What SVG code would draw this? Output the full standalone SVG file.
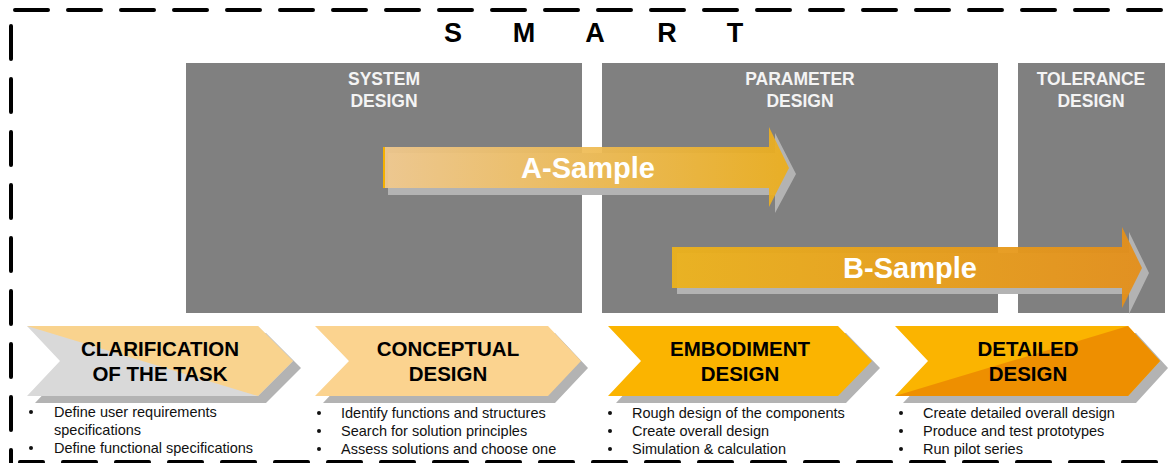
<svg xmlns="http://www.w3.org/2000/svg" width="1171" height="463" viewBox="0 0 1171 463">
<style>
.dash{fill:none;stroke:#000;stroke-width:4;stroke-linecap:round;stroke-dasharray:33 20}
.box{fill:#808080}
.hd{font-family:"Liberation Sans",Arial,sans-serif;font-weight:bold;font-size:17.5px;fill:#f4f4f4;text-anchor:middle}
.smp{font-family:"Liberation Sans",Arial,sans-serif;font-weight:bold;font-size:29px;fill:#fff;text-anchor:middle}
.ct{font-family:"Liberation Sans",Arial,sans-serif;font-weight:bold;font-size:20.5px;fill:#000;text-anchor:middle}
.bl{font-family:"Liberation Sans",Arial,sans-serif;font-size:14.5px;fill:#111}
.sh{fill:#b3b3b3}
.title{font-family:"Liberation Sans",Arial,sans-serif;font-weight:bold;font-size:27px;fill:#000;text-anchor:middle}
</style>
<defs>
<linearGradient id="gA" x1="0" y1="0" x2="1" y2="0">
<stop offset="0" stop-color="#f1c98e"/>
<stop offset="1" stop-color="#ecae1c"/>
</linearGradient>
<linearGradient id="gB" x1="0" y1="0" x2="1" y2="0">
<stop offset="0" stop-color="#ecb21c"/>
<stop offset="1" stop-color="#e48f1a"/>
</linearGradient>
</defs>
<rect width="1171" height="463" fill="#fff"/>
<g id="border">
<line class="dash" x1="15" y1="10" x2="1171" y2="10"/>
<line class="dash" x1="11" y1="26" x2="11" y2="470"/>
<line class="dash" x1="20" y1="462" x2="1171" y2="462" stroke-dashoffset="10"/>
</g>
<g id="title">
<text class="title" x="453" y="42">S</text>
<text class="title" x="524" y="42">M</text>
<text class="title" x="595" y="42">A</text>
<text class="title" x="667" y="42">R</text>
<text class="title" x="735" y="42">T</text>
</g>
<g id="system-design">
<rect class="box" x="186" y="63" width="396" height="250"/>
<text class="hd" x="384" y="85">SYSTEM</text>
<text class="hd" x="384" y="107">DESIGN</text>
</g>
<g id="parameter-design">
<rect class="box" x="602" y="63" width="396" height="250"/>
<text class="hd" x="800" y="85">PARAMETER</text>
<text class="hd" x="800" y="107">DESIGN</text>
</g>
<g id="tolerance-design">
<rect class="box" x="1018" y="63" width="147" height="250"/>
<text class="hd" x="1091" y="85">TOLERANCE</text>
<text class="hd" x="1091" y="107">DESIGN</text>
</g>
<g id="a-sample">
<polygon class="sh" points="388,153 775,153 775,133 796,174 775,213 775,195 388,195"/>
<polygon fill="url(#gA)" opacity="0.93" points="383,147 769,147 769,127 789,168 769,207 769,188 383,188"/>
<line x1="384" y1="147" x2="384" y2="188" stroke="#f5b000" stroke-width="2"/>
<text class="smp" x="588" y="178">A-Sample</text>
</g>
<g id="b-sample">
<polygon class="sh" points="677,253 1129,253 1129,232 1149,273 1129,314 1129,294 677,294"/>
<polygon fill="url(#gB)" opacity="0.95" points="672,247 1122,247 1122,227 1142,268 1122,308 1122,288 672,288"/>
<text class="smp" x="910" y="278">B-Sample</text>
</g>
<g id="clarification">
<polygon class="sh" points="35,333 266,333 301,368 266,403 35,403 68,368"/>
<polygon fill="#d9d9d9" points="27,326 258,326 293,361 258,396 27,396 60,361"/>
<polygon fill="#f9d38e" points="27,326 258,326 293,361 258,396"/>
<text class="ct" x="160" y="356">CLARIFICATION</text>
<text class="ct" x="160" y="381">OF THE TASK</text>
<circle cx="31" cy="412" r="2" fill="#111"/>
<text class="bl" x="54" y="417">Define user requirements</text>
<text class="bl" x="54" y="435">specifications</text>
<circle cx="31" cy="448" r="2" fill="#111"/>
<text class="bl" x="54" y="453">Define functional specifications</text>
</g>
<g id="conceptual">
<polygon class="sh" points="323,333 555,333 588,368 555,403 323,403 356,368"/>
<polygon fill="#fbd38f" points="315,326 548,326 581,361 548,396 315,396 349,361"/>
<text class="ct" x="448" y="356">CONCEPTUAL</text>
<text class="ct" x="448" y="381">DESIGN</text>
<circle cx="319" cy="413" r="2" fill="#111"/>
<text class="bl" x="341" y="418">Identify functions and structures</text>
<circle cx="319" cy="431" r="2" fill="#111"/>
<text class="bl" x="341" y="436">Search for solution principles</text>
<circle cx="319" cy="449" r="2" fill="#111"/>
<text class="bl" x="341" y="454">Assess solutions and choose one</text>
</g>
<g id="embodiment">
<polygon class="sh" points="616,333 846,333 880,368 846,403 616,403 648,368"/>
<polygon fill="#fbb400" points="608,326 838,326 872,361 838,396 608,396 641,361"/>
<text class="ct" x="740" y="356">EMBODIMENT</text>
<text class="ct" x="740" y="381">DESIGN</text>
<circle cx="610" cy="413" r="2" fill="#111"/>
<text class="bl" x="632" y="418">Rough design of the components</text>
<circle cx="610" cy="431" r="2" fill="#111"/>
<text class="bl" x="632" y="436">Create overall design</text>
<circle cx="610" cy="449" r="2" fill="#111"/>
<text class="bl" x="632" y="454">Simulation &amp; calculation</text>
</g>
<g id="detailed">
<polygon class="sh" points="903,333 1136,333 1168,368 1136,403 903,403 936,368"/>
<polygon fill="#fbb400" points="895,326 1128,326 1160,361 1128,396 895,396 928,361"/>
<polygon fill="#ee8f00" points="1128,326 1160,361 1128,396 895,396"/>
<text class="ct" x="1028" y="356">DETAILED</text>
<text class="ct" x="1028" y="381">DESIGN</text>
<circle cx="901" cy="413" r="2" fill="#111"/>
<text class="bl" x="923" y="418">Create detailed overall design</text>
<circle cx="901" cy="431" r="2" fill="#111"/>
<text class="bl" x="923" y="436">Produce and test prototypes</text>
<circle cx="901" cy="449" r="2" fill="#111"/>
<text class="bl" x="923" y="454">Run pilot series</text>
</g>
</svg>
